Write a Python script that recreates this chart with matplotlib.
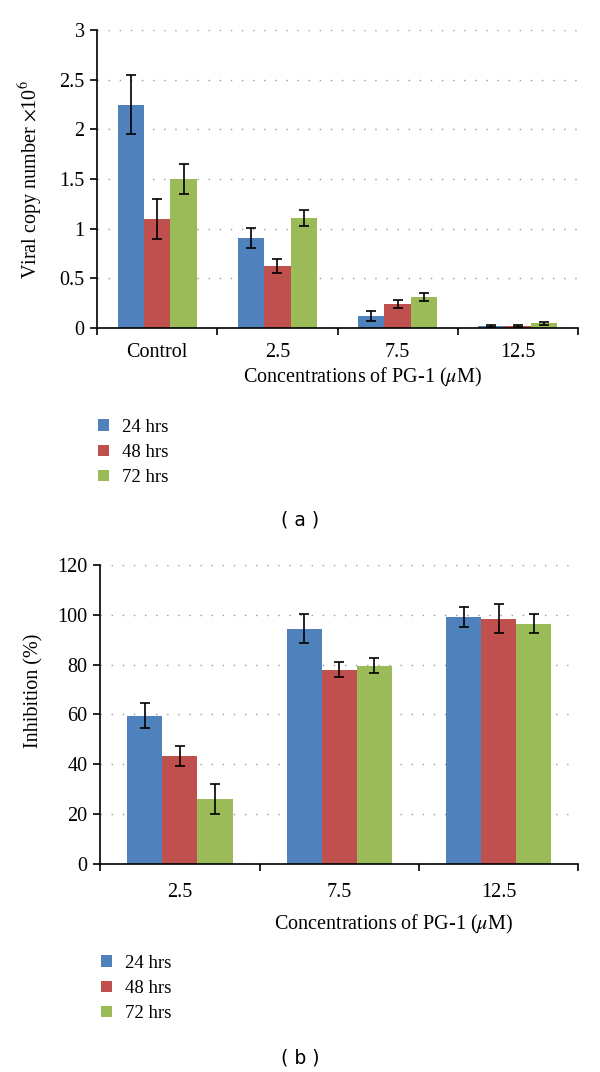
import matplotlib
matplotlib.use("Agg")
import matplotlib.pyplot as plt
import numpy as np

plt.rcParams['font.family'] = ['Liberation Serif', 'DejaVu Serif']
plt.rcParams['mathtext.fontset'] = 'stix'

# Panel (a) data
cats_a = ["Control", "2.5", "7.5", "12.5"]
h24_a = [2.25, 0.91, 0.12, 0.02]
h48_a = [1.10, 0.62, 0.24, 0.02]
h72_a = [1.50, 1.11, 0.31, 0.05]
e24_a = [0.30, 0.10, 0.05, 0.01]
e48_a = [0.20, 0.07, 0.04, 0.01]
e72_a = [0.15, 0.08, 0.04, 0.015]

# Panel (b) data
cats_b = ["2.5", "7.5", "12.5"]
h24_b = [59.5, 94.5, 99.0]
h48_b = [43.5, 78.0, 98.5]
h72_b = [26.0, 79.5, 96.5]
e24_b = [5.0, 6.0, 4.0]
e48_b = [4.0, 3.0, 6.0]
e72_b = [6.0, 3.0, 4.0]

series = ["24 hrs", "48 hrs", "72 hrs"]
colors = ["#4F81BD", "#C0504D", "#9BBB59"]

FS = 14.5

fig = plt.figure(figsize=(6, 10.72), dpi=100)


def draw_panel(ax, cats, vals, errs, ymax, ystep, ylabel, lab_off):
    x = np.arange(len(cats))
    w = 0.22
    for i, (v, e, c, lab) in enumerate(zip(vals, errs, colors, series)):
        ax.bar(x + (i - 1) * w, v, w, color=c, label=lab, zorder=2)
        ax.errorbar(x + (i - 1) * w, v, yerr=e, fmt='none', ecolor='black',
                    elinewidth=1.2, capsize=3.3, capthick=1.2, zorder=3)
    ax.set_xlim(-0.5, len(cats) - 0.5)
    ax.set_ylim(0, ymax)
    ax.set_yticks(np.arange(0, ymax + ystep / 2, ystep))
    ax.yaxis.grid(True, linestyle=(0, (1, 7)), color='#9a9a9a', linewidth=1)
    ax.set_axisbelow(True)
    ax.set_xticks(np.arange(len(cats) + 1) - 0.5)
    ax.set_xticklabels([])
    ax.tick_params(axis='x', length=5, width=1.2, direction='out')
    ax.tick_params(axis='y', length=5, width=1.2, direction='out',
                   labelsize=FS, pad=4)
    for i, c in enumerate(cats):
        ax.annotate(c, xy=(i, 0), xycoords=('data', 'axes fraction'),
                    xytext=(0, -lab_off), textcoords='offset points',
                    ha='center', va='center', fontsize=FS)
    for s in ['top', 'right']:
        ax.spines[s].set_visible(False)
    ax.spines['left'].set_linewidth(1.2)
    ax.spines['bottom'].set_linewidth(1.2)
    ax.set_ylabel(ylabel, fontsize=FS)


# ---- panel (a)
ax1 = fig.add_axes([0.162, 0.694, 0.801, 0.278])
draw_panel(ax1, cats_a, [h24_a, h48_a, h72_a], [e24_a, e48_a, e72_a],
           3, 0.5, r"Viral copy number $\times$10$^6$", 17.6)
ax1.set_yticklabels(["0", "0.5", "1", "1.5", "2", "2.5", "3"])
ax1.yaxis.set_label_coords(-0.108, 0.5)
fig.text(363 / 600, 1 - 377 / 1072, r"Concentrations of PG-1 ($\mu$M)",
         ha='center', va='center', fontsize=FS)
fig.legend(*ax1.get_legend_handles_labels(), loc='upper left',
           bbox_to_anchor=(98 / 600, 1 - 419 / 1072), frameon=False,
           fontsize=13.5, handlelength=0.6, handleheight=0.6,
           handletextpad=0.7, labelspacing=0.43, borderpad=0,
           borderaxespad=0)
fig.text(0.5, 1 - 520 / 1072, "( a )", ha='center', va='center',
         fontsize=13.5, family='DejaVu Sans')

# ---- panel (b)
ax2 = fig.add_axes([0.167, 0.194, 0.797, 0.279])
draw_panel(ax2, cats_b, [h24_b, h48_b, h72_b], [e24_b, e48_b, e72_b],
           120, 20, "Inhibition (%)", 20.2)
ax2.yaxis.set_label_coords(-0.118, 0.58)
fig.text(394 / 600, 1 - 924 / 1072, r"Concentrations of PG-1 ($\mu$M)",
         ha='center', va='center', fontsize=FS)
fig.legend(*ax2.get_legend_handles_labels(), loc='upper left',
           bbox_to_anchor=(101 / 600, 1 - 955 / 1072), frameon=False,
           fontsize=13.5, handlelength=0.6, handleheight=0.6,
           handletextpad=0.7, labelspacing=0.43, borderpad=0,
           borderaxespad=0)
fig.text(0.5, 1 - 1058 / 1072, "( b )", ha='center', va='center',
         fontsize=13.5, family='DejaVu Sans')

fig.savefig("out.png", dpi=100)
